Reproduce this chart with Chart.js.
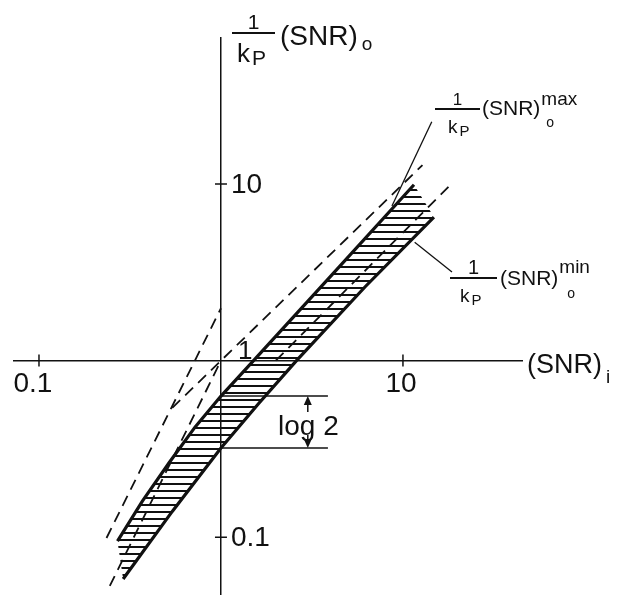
<!DOCTYPE html>
<html>
<head>
<meta charset="utf-8">
<script src="https://cdn.jsdelivr.net/npm/chart.js@4.4.0/dist/chart.umd.min.js"></script>
<style>
	html, body { margin: 0; padding: 0; background: #fff; }
	#wrap { width: 625px; height: 602px; }
</style>
</head>
<body>
<div id="wrap"><canvas id="myChart_snr"></canvas></div>
<script>
// (SNR)i -> (1/kP)(SNR)o
const maxIn = [0.27, 0.37, 0.52, 0.72, 1, 1.51, 4, 11.5];
const maxOut = [0.095, 0.16, 0.265, 0.42, 0.63, 1, 3, 9.9];
const minIn = [0.29, 0.54, 1, 1.62, 2.6, 6.2, 14.8];
const minOut = [0.058, 0.14, 0.32, 0.575, 1, 2.62, 6.5];

// dashed asymptotes
const asymTwoSqIn = [0.235, 1];
const asymTwoSqOut = [0.099, 1.98];
const asymLinIn = [0.54, 12.8];
const asymLinOut = [0.54, 12.8];
const asymSqIn = [0.245, 1];
const asymSqOut = [0.053, 1];
const asymHalfIn = [2.0, 18.6];
const asymHalfOut = [1.0, 10.1];

// leader lines to the curve labels
const leadMaxIn = [8.7, 14.4];
const leadMaxOut = [7.5, 22.5];
const leadMinIn = [11.6, 18.6];
const leadMinOut = [4.68, 3.18];

// log 2 bracket at (SNR)i = 1
const log2In = [1, 3.87];
const log2Top = 0.63;
const log2Bottom = 0.32;
const log2ArrowIn = 3.0;

const xTicks = [0.1, 10];
const xTickLabels = ['0.1', '10'];
const yTicks = [0.1, 10];
const yTickLabels = ['0.1', '10'];

const pts = (xs, ys) => xs.map((x, i) => ({ x: x, y: ys[i] }));

const black = '#111';
const FONT = '"Liberation Sans", Arial, sans-serif';

const ctx = document.getElementById('myChart_snr').getContext('2d');

// horizontal hatching for the band
const hatchCanvas = document.createElement('canvas');
hatchCanvas.width = 8;
hatchCanvas.height = 7;
const hctx = hatchCanvas.getContext('2d');
hctx.fillStyle = black;
hctx.fillRect(0, 0, 8, 2);
const hatch = ctx.createPattern(hatchCanvas, 'repeat');

function solid(data, w) {
	return { data: data, showLine: true, borderColor: black, borderWidth: w, pointRadius: 0, fill: false, tension: 0 };
}
function dashed(data) {
	return { data: data, showLine: true, borderColor: black, borderWidth: 1.8, borderDash: [11, 7], pointRadius: 0, fill: false, tension: 0 };
}

function fracLabel(c, o) {
	// 1 / kP (SNR) with sub and sup
	c.lineWidth = 2;
	c.beginPath();
	c.moveTo(o.x, o.y);
	c.lineTo(o.x + o.w, o.y);
	c.stroke();
	c.textAlign = 'center';
	c.font = o.oneSize + 'px ' + FONT;
	c.fillText('1', o.x + o.w / 2, o.y - 4);
	c.textAlign = 'left';
	c.font = o.kSize + 'px ' + FONT;
	c.fillText('k', o.kx, o.y + o.kDy);
	const kw = c.measureText('k').width;
	c.font = Math.round(o.kSize * 0.8) + 'px ' + FONT;
	c.fillText('P', o.kx + kw + 2, o.y + o.kDy + 3);
	c.font = o.size + 'px ' + FONT;
	const sx = o.x + o.w + o.gap;
	c.fillText('(SNR)', sx, o.y + o.dy);
	const sw = c.measureText('(SNR)').width;
	c.font = Math.round(o.size * 0.68) + 'px ' + FONT;
	c.fillText('o', sx + sw + o.subGap, o.y + o.subDy);
	if (o.sup) {
		c.font = Math.round(o.size * 0.92) + 'px ' + FONT;
		c.fillText(o.sup, sx + sw + 1, o.y + o.supDy);
	}
}

const labelPlugin = {
	id: 'figureLabels',
	afterDraw(chart) {
		const c = chart.ctx;
		const xs = chart.scales.x;
		const ys = chart.scales.y;
		const x1 = xs.getPixelForValue(1);
		const y1 = ys.getPixelForValue(1);
		c.save();
		c.fillStyle = black;
		c.strokeStyle = black;

		// tick labels
		c.font = '28px ' + FONT;
		c.textAlign = 'center';
		c.textBaseline = 'top';
		xTicks.forEach((v, i) => c.fillText(xTickLabels[i], xs.getPixelForValue(v) - (i === 0 ? 6 : 2), y1 + 10));
		c.textAlign = 'left';
		c.textBaseline = 'middle';
		yTicks.forEach((v, i) => c.fillText(yTickLabels[i], x1 + 10, ys.getPixelForValue(v) + 1));
		c.textBaseline = 'alphabetic';

		// "1" at the origin
		c.font = '26px ' + FONT;
		c.fillText('1', x1 + 17, y1 - 2);

		// axis titles
		fracLabel(c, { x: 232, y: 33, w: 43, oneSize: 21, kSize: 26, kx: 237, kDy: 29, size: 28, gap: 5, dy: 12, subGap: 4, subDy: 17 });
		c.font = '27px ' + FONT;
		c.fillText('(SNR)', 527, 373);
		const rw = c.measureText('(SNR)').width;
		c.font = '19px ' + FONT;
		c.fillText('i', 527 + rw + 4, 383);

		// curve labels
		fracLabel(c, { x: 435, y: 109, w: 45, oneSize: 17, kSize: 19, kx: 448, kDy: 24, size: 21, gap: 2, dy: 6, subGap: 6, subDy: 18, sup: 'max', supDy: -4 });
		fracLabel(c, { x: 450, y: 278, w: 47, oneSize: 20, kSize: 19, kx: 460, kDy: 24, size: 21, gap: 3, dy: 7, subGap: 9, subDy: 20, sup: 'min', supDy: -5 });

		// log 2 with arrows
		const ax = xs.getPixelForValue(log2ArrowIn);
		const yt = ys.getPixelForValue(log2Top);
		const yb = ys.getPixelForValue(log2Bottom);
		c.font = '28px ' + FONT;
		c.fillText('log 2', 278, 435);
		c.lineWidth = 1.5;
		c.beginPath();
		c.moveTo(ax, yt + 16);
		c.lineTo(ax, yt + 4);
		c.moveTo(ax, yb - 13);
		c.lineTo(ax, yb - 4);
		c.stroke();
		c.beginPath();
		c.moveTo(ax, yt);
		c.lineTo(ax - 4, yt + 9);
		c.lineTo(ax + 4, yt + 9);
		c.closePath();
		c.moveTo(ax, yb);
		c.lineTo(ax - 4, yb - 9);
		c.lineTo(ax + 4, yb - 9);
		c.closePath();
		c.fill();
		c.restore();
	}
};

const myChart_snr = new Chart(ctx, {
	type: 'scatter',
	data: {
		datasets: [
			solid(pts(maxIn, maxOut), 3.2),
			solid(pts(minIn, minOut), 3.2),
			{
				data: pts(maxIn, maxOut).concat(pts(minIn, minOut).reverse()),
				showLine: true,
				fill: 'shape',
				backgroundColor: hatch,
				borderColor: 'transparent',
				borderWidth: 1,
				pointRadius: 0,
				tension: 0,
			},
			dashed(pts(asymTwoSqIn, asymTwoSqOut)),
			dashed(pts(asymLinIn, asymLinOut)),
			dashed(pts(asymSqIn, asymSqOut)),
			dashed(pts(asymHalfIn, asymHalfOut)),
			solid(pts(leadMaxIn, leadMaxOut), 1.3),
			solid(pts(leadMinIn, leadMinOut), 1.3),
			solid(pts(log2In, [log2Top, log2Top]), 1.5),
			solid(pts(log2In, [log2Bottom, log2Bottom]), 1.5),
			{
				data: xTicks.map(v => ({ x: v, y: 1 })),
				showLine: false,
				pointStyle: 'line',
				pointRotation: 90,
				pointRadius: 6,
				pointBorderWidth: 1.5,
				pointBorderColor: black,
			},
			{
				data: yTicks.map(v => ({ x: 1, y: v })),
				showLine: false,
				pointStyle: 'line',
				pointRotation: 0,
				pointRadius: 6,
				pointBorderWidth: 1.5,
				pointBorderColor: black,
			},
		]
	},
	options: {
		animation: false,
		maintainAspectRatio: false,
		responsive: true,
		layout: {
			padding: { left: 14, right: 103, top: 38, bottom: 0 }
		},
		scales: {
			x: {
				type: 'logarithmic',
				min: 0.0729,
				max: 45.1,
				position: { y: 1 },
				ticks: { display: false },
				grid: { display: true, drawOnChartArea: false, drawTicks: false },
				border: { display: true, color: black, width: 1.5 },
			},
			y: {
				type: 'logarithmic',
				min: 0.0474,
				max: 67.1,
				position: { x: 1 },
				ticks: { display: false },
				grid: { display: true, drawOnChartArea: false, drawTicks: false },
				border: { display: true, color: black, width: 1.5 },
			},
		},
		plugins: {
			legend: { display: false },
			tooltip: { enabled: false },
			title: { display: false }
		}
	},
	plugins: [labelPlugin]
});
</script>
</body>
</html>
